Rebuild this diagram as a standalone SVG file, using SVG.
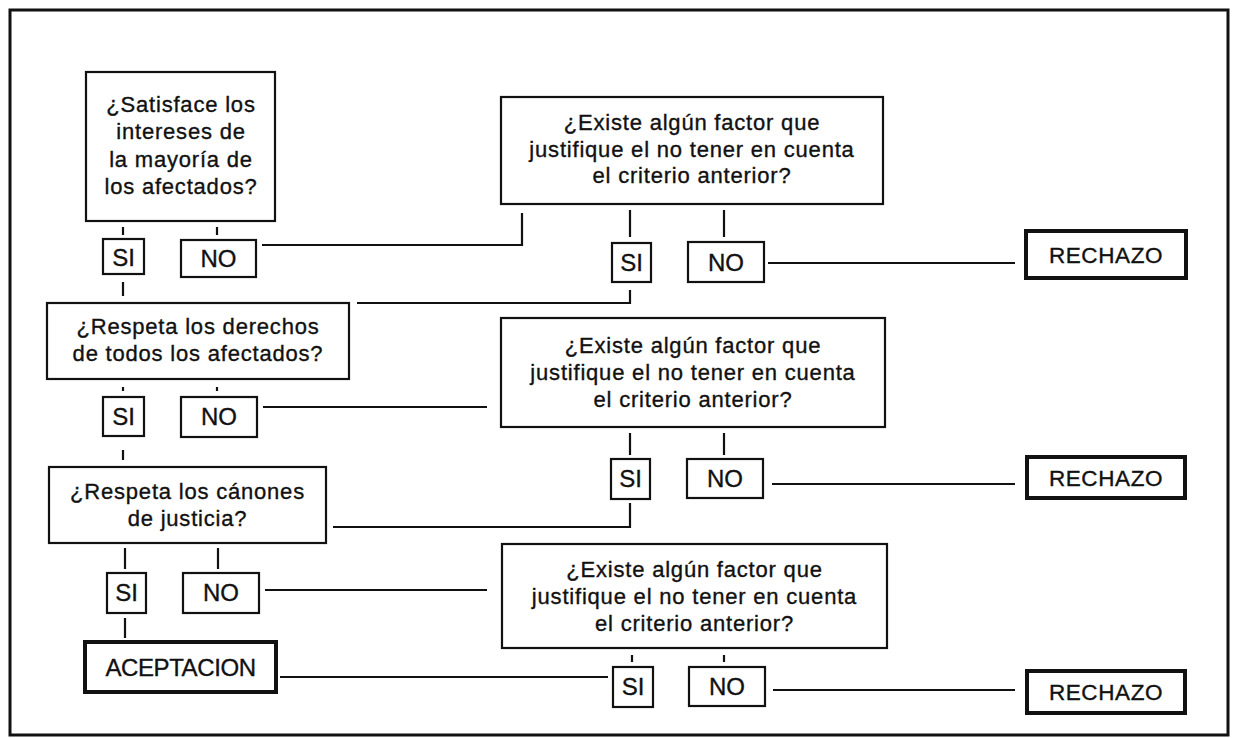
<svg xmlns="http://www.w3.org/2000/svg" width="1234" height="738" viewBox="0 0 1234 738">
<style>
  text { font-family: "Liberation Sans", Arial, sans-serif; fill: #111; stroke: #111; stroke-width: 0.35; text-anchor: middle; }
  .q { font-size: 22px; letter-spacing: 0.8px; }
  .lbl { font-size: 24px; }
  .end { font-size: 22.5px; letter-spacing: 0.6px; }
  .acc { font-size: 24px; letter-spacing: -0.4px; }
  .box { fill: #fff; stroke: #111; stroke-width: 2.2; }
  .thick { fill: #fff; stroke: #111; stroke-width: 4; }
  .ln { fill: none; stroke: #111; stroke-width: 2.2; }
</style>
<rect width="1234" height="738" fill="#fff"/>
<rect id="frame" x="10" y="10" width="1218" height="725" fill="none" stroke="#111" stroke-width="3"/>

<g id="connectors" class="ln">
  <path d="M123,227 V235"/>
  <path d="M217,227 V235"/>
  <path d="M123,282 V296"/>
  <path d="M262,245 H522 V213"/>
  <path d="M630,210 V237"/>
  <path d="M724,210 V237"/>
  <path d="M630,290 V303 H357"/>
  <path d="M768,263 H1015"/>
  <path d="M123,387 V391"/>
  <path d="M217,387 V391"/>
  <path d="M123,450 V460"/>
  <path d="M263,407 H487"/>
  <path d="M630,433 V455"/>
  <path d="M724,433 V455"/>
  <path d="M772,484 H1015"/>
  <path d="M630,503 V527 H333"/>
  <path d="M125,548 V569"/>
  <path d="M218,548 V569"/>
  <path d="M265,590 H487"/>
  <path d="M125,618 V638"/>
  <path d="M632,655 V662"/>
  <path d="M724,655 V662"/>
  <path d="M280,677 H608"/>
  <path d="M773,690 H1015"/>
</g>

<g id="q1">
  <rect class="box" x="86" y="72" width="189" height="149"/>
  <text class="q" x="181" y="112">¿Satisface los</text>
  <text class="q" x="181" y="139">intereses de</text>
  <text class="q" x="181" y="167">la mayoría de</text>
  <text class="q" x="181" y="194">los afectados?</text>
</g>
<g id="q1-si"><rect class="box" x="103" y="239" width="41" height="35"/><text class="lbl" x="123.5" y="266">SI</text></g>
<g id="q1-no"><rect class="box" x="181" y="240" width="75" height="37"/><text class="lbl" x="218.5" y="267">NO</text></g>

<g id="f1">
  <rect class="box" x="501" y="97" width="382" height="107"/>
  <text class="q" x="692" y="130">¿Existe algún factor que</text>
  <text class="q" x="692" y="157">justifique el no tener en cuenta</text>
  <text class="q" x="692" y="183">el criterio anterior?</text>
</g>
<g id="f1-si"><rect class="box" x="612" y="243" width="39" height="39"/><text class="lbl" x="631.5" y="271">SI</text></g>
<g id="f1-no"><rect class="box" x="688" y="242" width="76" height="40"/><text class="lbl" x="726" y="271">NO</text></g>
<g id="r1"><rect class="thick" x="1026" y="231" width="160" height="47"/><text class="end" x="1106" y="263">RECHAZO</text></g>

<g id="q2">
  <rect class="box" x="47" y="303" width="302" height="76"/>
  <text class="q" x="198" y="334">¿Respeta los derechos</text>
  <text class="q" x="198" y="361">de todos los afectados?</text>
</g>
<g id="q2-si"><rect class="box" x="103" y="397" width="41" height="39"/><text class="lbl" x="123.5" y="425">SI</text></g>
<g id="q2-no"><rect class="box" x="181" y="397" width="76" height="40"/><text class="lbl" x="219" y="425">NO</text></g>

<g id="f2">
  <rect class="box" x="501" y="318" width="384" height="109"/>
  <text class="q" x="693" y="353">¿Existe algún factor que</text>
  <text class="q" x="693" y="380">justifique el no tener en cuenta</text>
  <text class="q" x="693" y="407">el criterio anterior?</text>
</g>
<g id="f2-si"><rect class="box" x="611" y="459" width="39" height="40"/><text class="lbl" x="630.5" y="487">SI</text></g>
<g id="f2-no"><rect class="box" x="687" y="459" width="76" height="39"/><text class="lbl" x="725" y="487">NO</text></g>
<g id="r2"><rect class="thick" x="1027" y="457" width="158" height="41"/><text class="end" x="1106" y="486">RECHAZO</text></g>

<g id="q3">
  <rect class="box" x="49" y="467" width="277" height="76"/>
  <text class="q" x="187.5" y="499">¿Respeta los cánones</text>
  <text class="q" x="187.5" y="526">de justicia?</text>
</g>
<g id="q3-si"><rect class="box" x="107" y="573" width="39" height="40"/><text class="lbl" x="126.5" y="601">SI</text></g>
<g id="q3-no"><rect class="box" x="183" y="573" width="76" height="40"/><text class="lbl" x="221" y="601">NO</text></g>

<g id="f3">
  <rect class="box" x="502" y="544" width="385" height="104"/>
  <text class="q" x="694.5" y="577">¿Existe algún factor que</text>
  <text class="q" x="694.5" y="604">justifique el no tener en cuenta</text>
  <text class="q" x="694.5" y="631">el criterio anterior?</text>
</g>
<g id="f3-si"><rect class="box" x="613" y="667" width="40" height="40"/><text class="lbl" x="633" y="695">SI</text></g>
<g id="f3-no"><rect class="box" x="689" y="667" width="76" height="39"/><text class="lbl" x="727" y="695">NO</text></g>
<g id="r3"><rect class="thick" x="1027" y="671" width="158" height="42"/><text class="end" x="1106" y="700">RECHAZO</text></g>

<g id="accept"><rect class="thick" x="85" y="642" width="191" height="50"/><text class="acc" x="180.5" y="676">ACEPTACION</text></g>
</svg>
